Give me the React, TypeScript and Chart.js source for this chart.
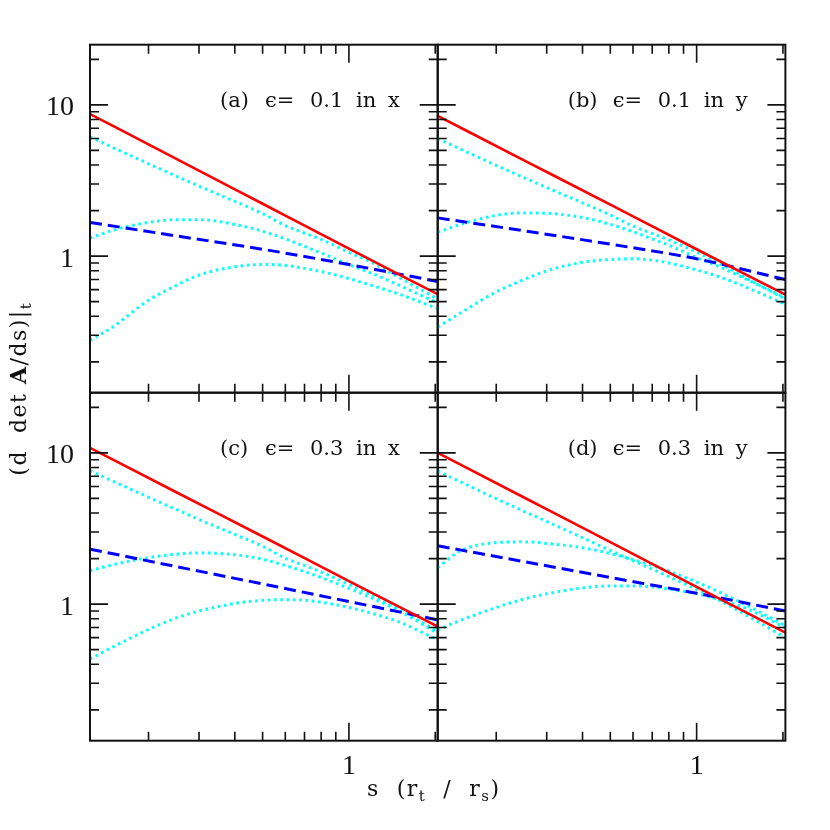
import React, { useEffect, useRef } from "react";
import { Chart, registerables } from "chart.js";
Chart.register(...registerables);

// ---------- axis ranges & ticks ----------
const X_MIN = 0.125;
const X_MAX = 2.04;
const Y_MIN = 0.125;
const Y_MAX = 25;

const xMajorTicks = [1];
const xMinorTicks = [0.2, 0.3, 0.4, 0.5, 0.6, 0.7, 0.8, 0.9, 2];
const yMajorTicks = [1, 10];
const yMinorTicks = [0.2, 0.3, 0.4, 0.5, 0.6, 0.7, 0.8, 0.9, 2, 3, 4, 5, 6, 7, 8, 9, 20];
const xTickLabels = ["1"];
const yTickLabels = ["1", "10"];

// ---------- sample abscissae ----------
const xLine = [0.125, 0.25, 0.5, 1, 2.04];
const xCurve = [0.125, 0.15, 0.2, 0.25, 0.3, 0.4, 0.5, 0.6, 0.7, 0.8, 1, 1.2, 1.5, 2.04];

// ---------- panel (a): eps = 0.1 in x ----------
const aRed = [8.7, 4.4, 2.22, 1.12, 0.56];
const aBlue = [1.67, 1.36, 1.11, 0.88, 0.68];
const aCyanTop = [6.14, 5.23, 4.08, 3.38, 2.9, 2.3, 1.91, 1.59, 1.42, 1.29, 1.06, 0.91, 0.72, 0.52];
const aCyanMid = [1.315, 1.48, 1.67, 1.74, 1.74, 1.62, 1.46, 1.3, 1.16, 1.05, 0.88, 0.77, 0.64, 0.49];
const aCyanLow = [0.277, 0.34, 0.51, 0.64, 0.75, 0.85, 0.88, 0.87, 0.83, 0.79, 0.71, 0.64, 0.56, 0.45];

// ---------- panel (b): eps = 0.1 in y ----------
const bRed = [8.45, 4.3, 2.19, 1.11, 0.556];
const bBlue = [1.79, 1.47, 1.2, 0.96, 0.7];
const bCyanTop = [6.0, 5.1, 3.98, 3.3, 2.84, 2.25, 1.87, 1.58, 1.41, 1.28, 1.06, 0.9, 0.71, 0.52];
const bCyanMid = [1.44, 1.62, 1.86, 1.93, 1.92, 1.8, 1.62, 1.45, 1.3, 1.18, 0.98, 0.85, 0.7, 0.53];
const bCyanLow = [0.34, 0.42, 0.58, 0.7, 0.8, 0.91, 0.95, 0.96, 0.94, 0.9, 0.81, 0.73, 0.62, 0.48];

// ---------- panel (c): eps = 0.3 in x ----------
const cRed = [10.8, 5.49, 2.8, 1.42, 0.71];
const cBlue = [2.31, 1.77, 1.36, 1.04, 0.787];
const cCyanTop = [7.63, 6.51, 5.09, 4.23, 3.63, 2.89, 2.41, 2.01, 1.8, 1.63, 1.35, 1.15, 0.92, 0.66];
const cCyanMid = [1.66, 1.82, 2.03, 2.14, 2.18, 2.12, 1.98, 1.8, 1.64, 1.5, 1.27, 1.1, 0.9, 0.64];
const cCyanLow = [0.434, 0.52, 0.68, 0.81, 0.9, 1.01, 1.06, 1.07, 1.06, 1.03, 0.95, 0.87, 0.76, 0.58];

// ---------- panel (d): eps = 0.3 in y ----------
const dRed = [10.0, 5.07, 2.57, 1.3, 0.647];
const dBlue = [2.43, 1.91, 1.5, 1.18, 0.9];
const dCyanTop = [7.6, 6.44, 4.98, 4.11, 3.52, 2.75, 2.26, 1.94, 1.7, 1.52, 1.25, 1.06, 0.84, 0.6];
const dCyanMid = [1.74, 2.25, 2.55, 2.58, 2.52, 2.36, 2.16, 1.97, 1.8, 1.65, 1.4, 1.2, 0.98, 0.72];
const dCyanLow = [0.676, 0.78, 0.95, 1.08, 1.17, 1.28, 1.32, 1.32, 1.3, 1.26, 1.17, 1.07, 0.93, 0.7];

// ---------- panel labels ----------
const panelLetters = ["(a)", "(b)", "(c)", "(d)"];
const panelEps = ["0.1", "0.1", "0.3", "0.3"];
const panelDirs = ["x", "y", "x", "y"];

// ---------- layout ----------
const L = 90;
const MX = 437.7;
const R = 785.4;
const T = 44.7;
const MY = 392.7;
const B = 740.7;

const RED = "#ff0000";
const BLUE = "#0000ff";
const CYAN = "#00ffff";
const INK = "#111111";

const SERIF = '"DejaVu Serif", serif';
const TICKFONT = '28px "Liberation Serif", serif';

type Piece = { t: string; f: string; dy: number };

function richWidth(ctx: CanvasRenderingContext2D, pieces: Piece[]) {
  let w = 0;
  for (const p of pieces) {
    ctx.font = p.f;
    w += ctx.measureText(p.t).width;
  }
  return w;
}
function drawRich(ctx: CanvasRenderingContext2D, pieces: Piece[], x: number, y: number) {
  let cx = x;
  for (const p of pieces) {
    ctx.font = p.f;
    ctx.fillText(p.t, cx, y + p.dy);
    cx += ctx.measureText(p.t).width;
  }
}

const toPts = (xs: number[], ys: number[]) => xs.map((x, i) => ({ x, y: ys[i] }));

type PanelCfg = {
  idx: number;
  l: number;
  r: number;
  t: number;
  b: number;
  red: number[];
  blue: number[];
  top: number[];
  mid: number[];
  low: number[];
  yLabels: boolean;
  xLabels: boolean;
  titles: boolean;
};

const PANELS: PanelCfg[] = [
  { idx: 0, l: L, r: MX, t: T, b: MY, red: aRed, blue: aBlue, top: aCyanTop, mid: aCyanMid, low: aCyanLow, yLabels: true, xLabels: false, titles: false },
  { idx: 1, l: MX, r: R, t: T, b: MY, red: bRed, blue: bBlue, top: bCyanTop, mid: bCyanMid, low: bCyanLow, yLabels: false, xLabels: false, titles: false },
  { idx: 2, l: L, r: MX, t: MY, b: B, red: cRed, blue: cBlue, top: cCyanTop, mid: cCyanMid, low: cCyanLow, yLabels: true, xLabels: true, titles: true },
  { idx: 3, l: MX, r: R, t: MY, b: B, red: dRed, blue: dBlue, top: dCyanTop, mid: dCyanMid, low: dCyanLow, yLabels: false, xLabels: true, titles: false },
];

function panelPlugin(cfg: PanelCfg) {
  return {
    id: "panelDecor" + cfg.idx,
    afterDraw(chart: any) {
      const ctx: CanvasRenderingContext2D = chart.ctx;
      const a = chart.chartArea;
      const xs = chart.scales.x;
      const ys = chart.scales.y;
      ctx.save();
      ctx.strokeStyle = INK;
      ctx.lineWidth = 1.6;
      ctx.beginPath();
      const tickX = (v: number, len: number) => {
        const px = xs.getPixelForValue(v);
        ctx.moveTo(px, a.bottom);
        ctx.lineTo(px, a.bottom - len);
        ctx.moveTo(px, a.top);
        ctx.lineTo(px, a.top + len);
      };
      const tickY = (v: number, len: number) => {
        const py = ys.getPixelForValue(v);
        ctx.moveTo(a.left, py);
        ctx.lineTo(a.left + len, py);
        ctx.moveTo(a.right, py);
        ctx.lineTo(a.right - len, py);
      };
      xMinorTicks.forEach((v) => tickX(v, 9));
      xMajorTicks.forEach((v) => tickX(v, 18));
      yMinorTicks.forEach((v) => tickY(v, 9));
      yMajorTicks.forEach((v) => tickY(v, 18));
      ctx.stroke();
      ctx.lineWidth = 2;
      ctx.strokeRect(a.left, a.top, a.right - a.left, a.bottom - a.top);

      ctx.fillStyle = INK;
      // tick labels
      if (cfg.yLabels) {
        ctx.font = TICKFONT;
        ctx.textAlign = "right";
        ctx.textBaseline = "alphabetic";
        yMajorTicks.forEach((v, i) => {
          ctx.fillText(yTickLabels[i], a.left - 16, ys.getPixelForValue(v) + 10.5);
        });
      }
      if (cfg.xLabels) {
        ctx.font = TICKFONT;
        ctx.textAlign = "center";
        ctx.textBaseline = "alphabetic";
        xMajorTicks.forEach((v, i) => {
          ctx.fillText(xTickLabels[i], xs.getPixelForValue(v), a.bottom + 33);
        });
      }

      // panel label
      ctx.textAlign = "left";
      ctx.textBaseline = "alphabetic";
      ctx.font = "21px " + SERIF;
      const base = a.top + 62;
      const parts = [panelLetters[cfg.idx], "\u03f5=", panelEps[cfg.idx], "in", panelDirs[cfg.idx]];
      const offs = [130, 175, 220, 266, 298];
      parts.forEach((s, i) => ctx.fillText(s, a.left + offs[i], base));

      // axis titles
      if (cfg.titles) {
        const main = "22px " + SERIF;
        const sub = "15px " + SERIF;
        const bold = "bold 22px " + SERIF;
        ctx.letterSpacing = "1.5px";
        const xt: Piece[] = [
          { t: "s  (r", f: main, dy: 0 },
          { t: "t", f: sub, dy: 5 },
          { t: "  /  r", f: main, dy: 0 },
          { t: "s", f: sub, dy: 5 },
          { t: ")", f: main, dy: 0 },
        ];
        const w = richWidth(ctx, xt);
        drawRich(ctx, xt, (L + R) / 2 - w / 2 - 4, 796);

        const yt: Piece[] = [
          { t: "(d  det ", f: main, dy: 0 },
          { t: "A", f: bold, dy: 0 },
          { t: "/ds)|", f: main, dy: 0 },
          { t: "t", f: sub, dy: 5 },
        ];
        ctx.save();
        ctx.translate(26, (T + B) / 2 - 4);
        ctx.rotate(-Math.PI / 2);
        const wy = richWidth(ctx, yt);
        drawRich(ctx, yt, -wy / 2, 0);
        ctx.restore();
        ctx.letterSpacing = "0px";
      }
      ctx.restore();
    },
  };
}

function makeChart(canvas: HTMLCanvasElement, cfg: PanelCfg) {
  const dotted = { borderColor: CYAN, borderWidth: 3, borderDash: [2.6, 3.7], borderCapStyle: "butt" as const };
  return new Chart(canvas, {
    type: "line",
    data: {
      datasets: [
        { data: toPts(xLine, cfg.red), borderColor: RED, borderWidth: 2.6 },
        { data: toPts(xLine, cfg.blue), borderColor: BLUE, borderWidth: 3, borderDash: [12, 6] },
        { data: toPts(xCurve, cfg.top), ...dotted },
        { data: toPts(xCurve, cfg.mid), ...dotted },
        { data: toPts(xCurve, cfg.low), ...dotted },
      ] as any,
    },
    options: {
      animation: false,
      responsive: false,
      devicePixelRatio: 1,
      layout: { padding: { left: cfg.l, right: 830 - cfg.r, top: cfg.t, bottom: 830 - cfg.b } },
      elements: {
        point: { radius: 0 },
        line: { cubicInterpolationMode: "monotone", fill: false },
      },
      scales: {
        x: { type: "logarithmic", min: X_MIN, max: X_MAX, display: false },
        y: { type: "logarithmic", min: Y_MIN, max: Y_MAX, display: false },
      },
      plugins: { legend: { display: false }, tooltip: { enabled: false } },
      events: [],
    } as any,
    plugins: [panelPlugin(cfg)],
  });
}

export default function App() {
  const refs = useRef<(HTMLCanvasElement | null)[]>([]);
  useEffect(() => {
    const charts = PANELS.map((p, i) => makeChart(refs.current[i] as HTMLCanvasElement, p));
    return () => charts.forEach((c) => c.destroy());
  }, []);
  return (
    <div style={{ position: "absolute", left: 0, top: 0, width: 830, height: 830, background: "#ffffff" }}>
      {PANELS.map((p, i) => (
        <canvas
          key={i}
          ref={(el) => {
            refs.current[i] = el;
          }}
          width={830}
          height={830}
          style={{ position: "absolute", left: 0, top: 0 }}
        />
      ))}
    </div>
  );
}
